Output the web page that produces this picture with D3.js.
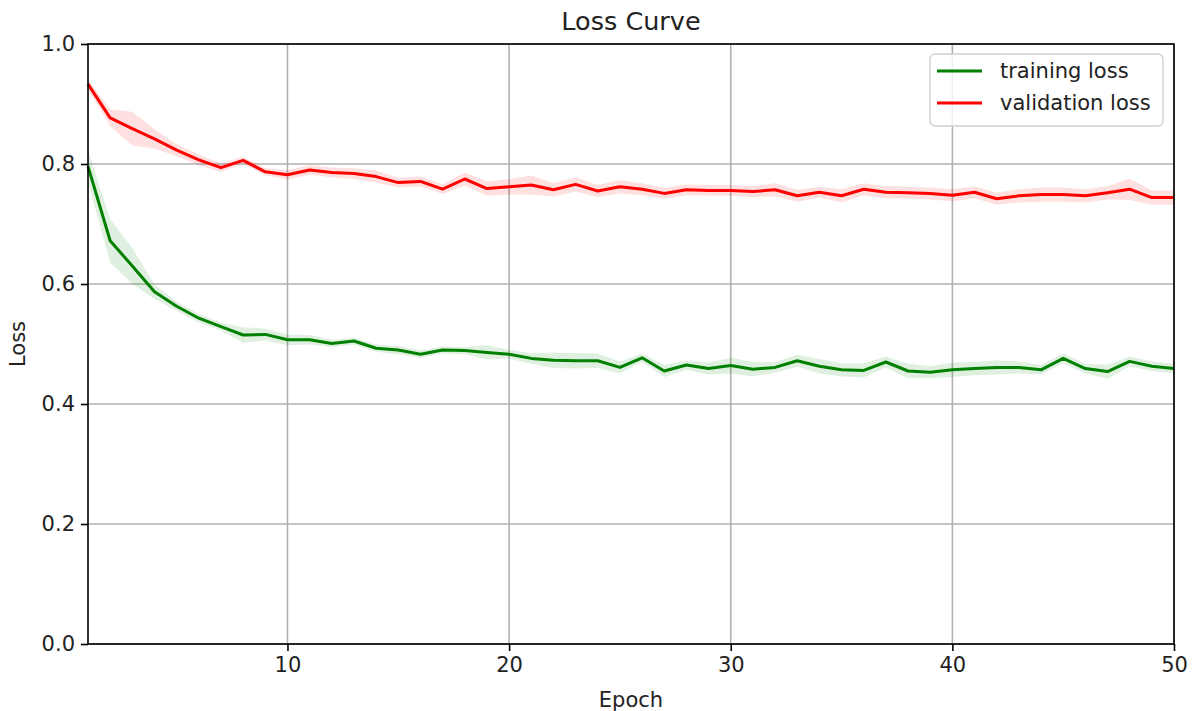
<!DOCTYPE html>
<html>
<head>
<meta charset="utf-8">
<script src="https://cdn.jsdelivr.net/npm/d3@7"></script>
<style>
  body { margin: 0; background: #fff; }
  svg { font-family: "DejaVu Sans", sans-serif; }
</style>
</head>
<body>
<script>
// Epochs 1..50
const epochs = d3.range(1, 51);

// Mean training loss per epoch
const trainLoss = [
  0.796, 0.672, 0.630, 0.587, 0.563, 0.543, 0.529, 0.515, 0.516, 0.507,
  0.507, 0.501, 0.505, 0.493, 0.490, 0.483, 0.490, 0.489, 0.486, 0.483,
  0.476, 0.473, 0.472, 0.472, 0.461, 0.477, 0.455, 0.465, 0.459, 0.464,
  0.458, 0.461, 0.472, 0.463, 0.457, 0.456, 0.470, 0.455, 0.453, 0.457,
  0.459, 0.461, 0.461, 0.457, 0.476, 0.459, 0.454, 0.471, 0.463, 0.459
];
// Spread of training loss (half-width of shaded band)
const trainStd = [
  0.027, 0.036, 0.030, 0.012, 0.008, 0.007, 0.007, 0.013, 0.010, 0.009,
  0.008, 0.006, 0.006, 0.006, 0.007, 0.006, 0.006, 0.006, 0.012, 0.007,
  0.009, 0.013, 0.013, 0.012, 0.010, 0.007, 0.010, 0.008, 0.010, 0.013,
  0.012, 0.009, 0.010, 0.012, 0.011, 0.012, 0.009, 0.012, 0.010, 0.012,
  0.011, 0.012, 0.010, 0.008, 0.008, 0.008, 0.012, 0.008, 0.008, 0.008
];

// Mean validation loss per epoch
const valLoss = [
  0.933, 0.877, 0.859, 0.842, 0.823, 0.807, 0.794, 0.806, 0.787, 0.782,
  0.790, 0.786, 0.784, 0.779, 0.769, 0.771, 0.758, 0.775, 0.759, 0.762,
  0.765, 0.757, 0.766, 0.755, 0.762, 0.758, 0.751, 0.757, 0.756, 0.756,
  0.754, 0.757, 0.747, 0.753, 0.747, 0.758, 0.753, 0.752, 0.751, 0.748,
  0.753, 0.742, 0.747, 0.749, 0.749, 0.747, 0.752, 0.758, 0.744, 0.744
];
const valStd = [
  0.008, 0.014, 0.028, 0.016, 0.010, 0.009, 0.007, 0.006, 0.006, 0.008,
  0.008, 0.008, 0.009, 0.010, 0.008, 0.008, 0.008, 0.011, 0.012, 0.013,
  0.016, 0.011, 0.012, 0.010, 0.011, 0.010, 0.009, 0.009, 0.009, 0.009,
  0.009, 0.011, 0.010, 0.009, 0.011, 0.010, 0.010, 0.010, 0.010, 0.010,
  0.010, 0.010, 0.011, 0.012, 0.012, 0.011, 0.011, 0.018, 0.012, 0.012
];

const xTicks = [10, 20, 30, 40, 50];
const yTicks = [0.0, 0.2, 0.4, 0.6, 0.8, 1.0];

const series = [
  { label: 'training loss', color: 'green', mean: trainLoss, std: trainStd },
  { label: 'validation loss', color: 'red', mean: valLoss, std: valStd }
];

const width = 1192, height = 711;
const margin = { top: 44, right: 18, bottom: 67, left: 88 };
const innerW = width - margin.left - margin.right;
const innerH = height - margin.top - margin.bottom;

const svg = d3.select('body').append('svg')
  .attr('width', width)
  .attr('height', height);

const g = svg.append('g')
  .attr('transform', `translate(${margin.left},${margin.top})`);

const x = d3.scaleLinear().domain([1, 50]).range([0, innerW]);
const y = d3.scaleLinear().domain([0, 1]).range([innerH, 0]);

// Grid lines
g.append('g').selectAll('line.vgrid').data(xTicks).join('line')
  .attr('x1', d => x(d)).attr('x2', d => x(d))
  .attr('y1', 0).attr('y2', innerH)
  .attr('stroke', '#b0b0b0').attr('stroke-width', 1.6);
g.append('g').selectAll('line.hgrid').data(yTicks).join('line')
  .attr('x1', 0).attr('x2', innerW)
  .attr('y1', d => y(d)).attr('y2', d => y(d))
  .attr('stroke', '#b0b0b0').attr('stroke-width', 1.6);

// Shaded bands and mean lines
const area = (s) => d3.area()
  .x((d, i) => x(epochs[i]))
  .y0((d, i) => y(s.mean[i] - s.std[i]))
  .y1((d, i) => y(s.mean[i] + s.std[i]));
const line = d3.line()
  .x((d, i) => x(epochs[i]))
  .y(d => y(d));

series.forEach(s => {
  g.append('path')
    .datum(s.mean)
    .attr('d', area(s))
    .attr('fill', s.color)
    .attr('fill-opacity', 0.12)
    .attr('stroke', 'none');
});
series.forEach(s => {
  g.append('path')
    .datum(s.mean)
    .attr('d', line)
    .attr('fill', 'none')
    .attr('stroke', s.color)
    .attr('stroke-width', 3)
    .attr('stroke-linejoin', 'round');
});

// Axes
const xAxis = g.append('g')
  .attr('transform', `translate(0,${innerH})`)
  .call(d3.axisBottom(x).tickValues(xTicks).tickSize(7).tickPadding(6).tickFormat(d3.format('d')));
const yAxis = g.append('g')
  .call(d3.axisLeft(y).tickValues(yTicks).tickSize(7).tickPadding(6).tickFormat(d3.format('.1f')));

[xAxis, yAxis].forEach(ax => {
  ax.selectAll('path.domain').remove();
  ax.selectAll('line').attr('stroke', '#000').attr('stroke-width', 1.6);
  ax.selectAll('text')
    .attr('fill', '#222')
    .style('font-size', '21px')
    .style('font-family', '"DejaVu Sans", sans-serif');
});

// Frame
g.append('rect')
  .attr('x', 0).attr('y', 0)
  .attr('width', innerW).attr('height', innerH)
  .attr('fill', 'none')
  .attr('stroke', '#000')
  .attr('stroke-width', 1.6);

// Title and labels
svg.append('text')
  .attr('x', margin.left + innerW / 2).attr('y', 30)
  .attr('text-anchor', 'middle')
  .style('font-size', '25.5px')
  .attr('fill', '#222')
  .text('Loss Curve');

svg.append('text')
  .attr('x', margin.left + innerW / 2).attr('y', 707)
  .attr('text-anchor', 'middle')
  .style('font-size', '21px')
  .attr('fill', '#222')
  .text('Epoch');

svg.append('text')
  .attr('transform', `translate(25,${margin.top + innerH / 2}) rotate(-90)`)
  .attr('text-anchor', 'middle')
  .style('font-size', '21px')
  .attr('fill', '#222')
  .text('Loss');

// Legend
const legend = svg.append('g').attr('transform', 'translate(930,54)');
legend.append('rect')
  .attr('width', 233).attr('height', 72)
  .attr('rx', 5).attr('ry', 5)
  .attr('fill', '#fff').attr('fill-opacity', 0.8)
  .attr('stroke', '#d0d0d0').attr('stroke-width', 1.4);

series.forEach((s, i) => {
  const row = legend.append('g').attr('transform', `translate(0,${17 + i * 32})`);
  row.append('line')
    .attr('x1', 7).attr('x2', 52)
    .attr('y1', 0).attr('y2', 0)
    .attr('stroke', s.color).attr('stroke-width', 3);
  row.append('text')
    .attr('x', 70).attr('y', 7)
    .style('font-size', '21px')
    .attr('fill', '#222')
    .text(s.label);
});
</script>
</body>
</html>
